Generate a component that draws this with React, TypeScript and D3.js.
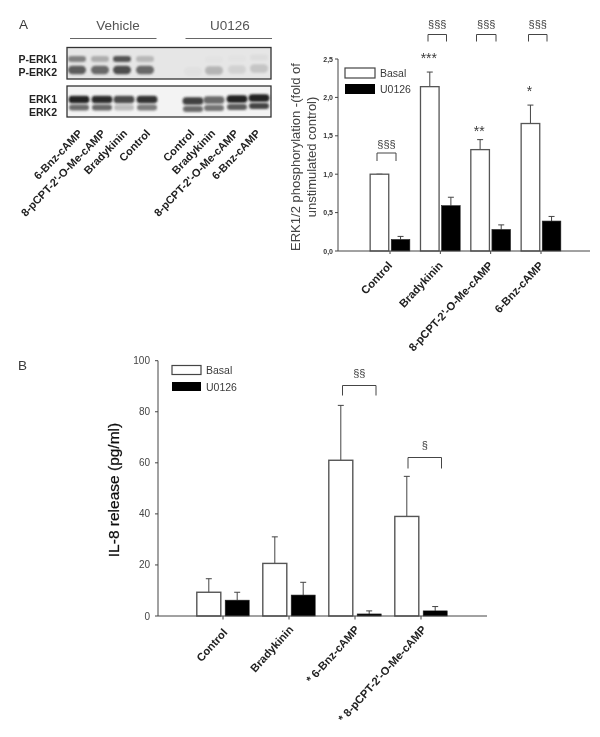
import React from "react";
import * as d3 from "d3";

const FONT = "'Liberation Sans', Arial, sans-serif";
const blotLanes = ["6-Bnz-cAMP", "8-pCPT-2'-O-Me-cAMP", "Bradykinin", "Control", "Control ", "Bradykinin ", "8-pCPT-2'-O-Me-cAMP ", "6-Bnz-cAMP "];
const pErk1 = [0.62, 0.35, 0.9, 0.28, 0, 0.02, 0.02, 0.05];
const pErk2 = [0.85, 0.78, 0.95, 0.78, 0.03, 0.3, 0.12, 0.2];
const erk1 = [1, 0.95, 0.8, 0.92, 0.85, 0.65, 1, 1];
const erk2 = [0.7, 0.72, 0.28, 0.62, 0.7, 0.65, 0.78, 0.9];

const catsA = ["Control", "Bradykinin", "8-pCPT-2'-O-Me-cAMP", "6-Bnz-cAMP"];
const basalA = [1.0, 2.14, 1.32, 1.66];
const basalTopA = [1.0, 2.33, 1.45, 1.9];
const u0126A = [0.15, 0.59, 0.28, 0.39];
const u0126TopA = [0.19, 0.7, 0.34, 0.45];
const ticksA = ["0,0", "0,5", "1,0", "1,5", "2,0", "2,5"];
const ticksAVal = [0, 0.5, 1, 1.5, 2, 2.5];
const starsA = ["", "***", "**", "*"];

const catsB = ["Control", "Bradykinin", "* 6-Bnz-cAMP", "* 8-pCPT-2'-O-Me-cAMP"];
const basalB = [9.3, 20.6, 61, 39];
const basalTopB = [14.6, 31, 82.5, 54.7];
const u0126B = [6.2, 8.2, 0.8, 2];
const u0126TopB = [9.3, 13.2, 2, 3.7];
const ticksB = [0, 20, 40, 60, 80, 100];

const GREY = "#444";
const TXT = "#3a3a3a";

function Bars({ cats, basal, basalTop, u, uTop, x, y, w, gap, sw, capW }: any) {
  return (
    <g>
      {cats.map((c: string, i: number) => {
        const cx = x(c)!;
        const y0 = y(0);
        return (
          <g key={c}>
            <line x1={cx - gap / 2 - w / 2} x2={cx - gap / 2 - w / 2} y1={y(basal[i])} y2={y(basalTop[i])} stroke={GREY} strokeWidth={1} />
            <line x1={cx - gap / 2 - w / 2 - capW} x2={cx - gap / 2 - w / 2 + capW} y1={y(basalTop[i])} y2={y(basalTop[i])} stroke={GREY} strokeWidth={1} />
            <rect x={cx - gap / 2 - w} y={y(basal[i])} width={w} height={y0 - y(basal[i])} fill="#fff" stroke="#555" strokeWidth={sw} />
            <line x1={cx + gap / 2 + w / 2} x2={cx + gap / 2 + w / 2} y1={y(u[i])} y2={y(uTop[i])} stroke={GREY} strokeWidth={1} />
            <line x1={cx + gap / 2 + w / 2 - capW} x2={cx + gap / 2 + w / 2 + capW} y1={y(uTop[i])} y2={y(uTop[i])} stroke={GREY} strokeWidth={1} />
            <rect x={cx + gap / 2} y={y(u[i])} width={w} height={y0 - y(u[i])} fill="#000" stroke="#222" strokeWidth={0.6} />
          </g>
        );
      })}
    </g>
  );
}

function Bracket({ x1, x2, y, h, label, dy }: any) {
  return (
    <g>
      <path d={`M${x1},${y + h}V${y}H${x2}V${y + h}`} fill="none" stroke={GREY} strokeWidth={1} />
      <text x={(x1 + x2) / 2} y={y - dy} textAnchor="middle" fontSize={11} fill={TXT} fontFamily={FONT}>{label}</text>
    </g>
  );
}

function Legend({ x, y1, y2, w, h }: any) {
  return (
    <g fontFamily={FONT} fontSize={10.5} fill={TXT}>
      <rect x={x} y={y1} width={w} height={h} fill="#fff" stroke="#444" strokeWidth={1.2} />
      <rect x={x} y={y2} width={w} height={h} fill="#000" />
      <text x={x + w + 5} y={y1 + h / 2 + 4}>Basal</text>
      <text x={x + w + 5} y={y2 + h / 2 + 4}>U0126</text>
    </g>
  );
}

export default function App() {
  const laneX = d3.scaleOrdinal<string, number>().domain(blotLanes).range([77, 100, 122, 145, 192, 213, 236, 258]);
  const tilt = d3.scaleLinear().domain([192, 258]).range([1.5, -1.5]).clamp(true);

  const xA = d3.scalePoint<string>().domain(catsA).range([390, 541]);
  const yA = d3.scaleLinear().domain([0, 2.5]).range([251, 59]);
  const xB = d3.scalePoint<string>().domain(catsB).range([223, 421]);
  const yB = d3.scaleLinear().domain([0, 100]).range([616, 360.7]);

  const band = (values: number[], cy: number, key: string, halfW: number, halfH: number, shift: number, fill: string) =>
    blotLanes.map((l, i) => {
      const lx = laneX(l) + (i < 4 ? shift : 1);
      return values[i] > 0.01 ? (
        <rect key={key + i} x={lx - halfW} y={cy - halfH + (i > 3 ? tilt(lx) : 0)} width={halfW * 2} height={halfH * 2} rx={halfH}
          fill={fill} opacity={values[i]} filter="url(#soft)" />
      ) : null;
    });

  return (
    <svg width={600} height={737} viewBox="0 0 600 737" style={{ position: "absolute", left: 0, top: 0, background: "#fff" }} fontFamily={FONT}>
      <defs>
        <filter id="soft" x="-30%" y="-80%" width="160%" height="260%"><feGaussianBlur stdDeviation="1" /></filter>
        <filter id="all" x="0" y="0" width="100%" height="100%"><feGaussianBlur stdDeviation="0.35" /></filter>
      </defs>
      <g filter="url(#all)">
        <rect x={0} y={0} width={600} height={737} fill="#fff" />
        <text x={19} y={29} fontSize={13.5} fill={TXT}>A</text>
        <text x={18} y={370} fontSize={13.5} fill={TXT}>B</text>

        {/* Blots */}
        <text x={118} y={30} textAnchor="middle" fontSize={13.5} fill="#555">Vehicle</text>
        <text x={230} y={30} textAnchor="middle" fontSize={13.5} fill="#555">U0126</text>
        <line x1={70} x2={156.5} y1={38.5} y2={38.5} stroke="#666" strokeWidth={1.2} />
        <line x1={185.5} x2={272} y1={38.5} y2={38.5} stroke="#666" strokeWidth={1.2} />

        <rect x={67} y={47.5} width={204} height={31.5} fill="#e6e6e6" stroke="#333" strokeWidth={1.3} />
        <rect x={67} y={86} width={204} height={31} fill="#f3f3f3" stroke="#333" strokeWidth={1.3} />
        <g>
          {band(pErk1, 59, "p1", 9, 3, 0, "#444")}
          {band(pErk2, 70, "p2", 9, 4.2, 0, "#444")}
          {band(erk1, 99.5, "e1", 10.5, 3.8, 2, "#222")}
          {band(erk2, 107.5, "e2", 10, 3, 2, "#333")}
        </g>
        <g fontSize={10.5} fontWeight="bold" fill="#222" textAnchor="end">
          <text x={57} y={63}>P-ERK1</text>
          <text x={57} y={76}>P-ERK2</text>
          <text x={57} y={103}>ERK1</text>
          <text x={57} y={116}>ERK2</text>
        </g>
        <g fontSize={11} fontWeight="bold" fill="#222" textAnchor="end">
          {blotLanes.map((l) => {
            const lx = laneX(l);
            return <text key={l} transform={`translate(${lx + (lx < 160 ? 6 : 3)},134) rotate(-46)`}>{l.trim()}</text>;
          })}
        </g>

        {/* Panel A chart */}
        <Bars cats={catsA} basal={basalA} basalTop={basalTopA} u={u0126A} uTop={u0126TopA} x={xA} y={yA} w={18.6} gap={2.5} sw={1.3} capW={3} />
        <line x1={338} x2={338} y1={yA(2.5)} y2={yA(0)} stroke={GREY} strokeWidth={1} />
        <line x1={338} x2={590} y1={yA(0)} y2={yA(0)} stroke={GREY} strokeWidth={1} />
        {ticksAVal.map((v, i) => (
          <g key={v}>
            <line x1={335} x2={338} y1={yA(v)} y2={yA(v)} stroke={GREY} />
            <text x={333} y={yA(v) + 2.5} textAnchor="end" fontSize={7} fontWeight="bold" fill="#333">{ticksA[i]}</text>
          </g>
        ))}
        {catsA.map((c, i) => (
          <g key={c}>
            <line x1={xA(c)!} x2={xA(c)!} y1={251} y2={254} stroke={GREY} />
            <text transform={`translate(${xA(c)! + 3},266) rotate(-47)`} textAnchor="end" fontSize={11.2} fontWeight="bold" fill="#222">{c}</text>
            {starsA[i] && <text x={xA(c)! - 11.5} y={yA(basalTopA[i]) - (i === 2 ? 4 : 9)} textAnchor="middle" fontSize={14} fill={TXT}>{starsA[i]}</text>}
          </g>
        ))}
        <Legend x={345} y1={68} y2={84} w={30} h={10} />
        <text transform="translate(299.5,157) rotate(-90)" textAnchor="middle" fontSize={13} fill="#444">ERK1/2 phosphorylation -(fold of</text>
        <text transform="translate(316,157) rotate(-90)" textAnchor="middle" fontSize={13} fill="#444">unstimulated control)</text>
        <Bracket x1={377} x2={396} y={153} h={8} label="§§§" dy={5} />
        <Bracket x1={428} x2={446.5} y={34.5} h={7} label="§§§" dy={7} />
        <Bracket x1={476.5} x2={496} y={34.5} h={7} label="§§§" dy={7} />
        <Bracket x1={528.5} x2={547} y={34.5} h={7} label="§§§" dy={7} />

        {/* Panel B chart */}
        <Bars cats={catsB} basal={basalB} basalTop={basalTopB} u={u0126B} uTop={u0126TopB} x={xB} y={yB} w={24} gap={4.4} sw={1.4} capW={3} />
        <line x1={158} x2={158} y1={yB(100)} y2={yB(0)} stroke={GREY} strokeWidth={1} />
        <line x1={158} x2={487} y1={yB(0)} y2={yB(0)} stroke={GREY} strokeWidth={1} />
        {ticksB.map((v) => (
          <g key={v}>
            <line x1={155} x2={158} y1={yB(v)} y2={yB(v)} stroke={GREY} />
            <text x={150} y={yB(v) + 3.5} textAnchor="end" fontSize={10} fill="#444">{v}</text>
          </g>
        ))}
        {catsB.map((c, i) => (
          <g key={c}>
            <line x1={xB(c)!} x2={xB(c)!} y1={616} y2={619.5} stroke={GREY} />
            <text transform={`translate(${xB(c)! + (i === 3 ? 6 : 5)},${i === 0 ? 633 : 630}) rotate(-48)`} textAnchor="end" fontSize={11.2} fontWeight="bold" fill="#222">{c}</text>
          </g>
        ))}
        <Legend x={172} y1={365.5} y2={382} w={29} h={9} />
        <text transform="translate(119,490) rotate(-90)" textAnchor="middle" fontSize={15.5} fill="#111" stroke="#111" strokeWidth={0.25}>IL-8 release (pg/ml)</text>
        <Bracket x1={342.5} x2={376} y={385.5} h={10} label="§§" dy={9} />
        <Bracket x1={408} x2={441.5} y={457.5} h={11} label="§" dy={9} />
      </g>
    </svg>
  );
}
